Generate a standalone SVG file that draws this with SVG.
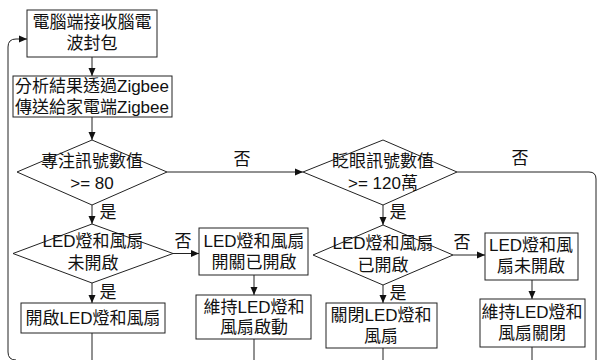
<svg xmlns="http://www.w3.org/2000/svg" width="597" height="360" viewBox="0 0 597 360">
<style>
.s{fill:#fff;stroke:#222;stroke-width:1}
.c{fill:none;stroke:#222;stroke-width:1}
text{font-family:"Liberation Sans","Noto Sans CJK TC",sans-serif;font-size:17px;fill:#111;text-anchor:middle;dominant-baseline:central}
</style>
<defs>
<marker id="ah" viewBox="0 0 8 8" refX="8" refY="4" markerWidth="8" markerHeight="8" markerUnits="userSpaceOnUse" orient="auto">
<path d="M0,0.5 L8,4 L0,7.5 Z" fill="#111"/>
</marker>
</defs>
<rect width="597" height="360" fill="#fff"/>
<g id="connectors">
<path class="c" d="M16,360 Q8,360 8,352 V47 Q8,39 16,39 H27" marker-end="url(#ah)"/>
<path class="c" d="M92,57 V76" marker-end="url(#ah)"/>
<path class="c" d="M92,117 V140" marker-end="url(#ah)"/>
<path class="c" d="M167,172 H303" marker-end="url(#ah)"/>
<path class="c" d="M92,205 V224" marker-end="url(#ah)"/>
<path class="c" d="M173,253.5 H199" marker-end="url(#ah)"/>
<path class="c" d="M92,283 V303" marker-end="url(#ah)"/>
<path class="c" d="M92,333 V360"/>
<path class="c" d="M254,275 V295" marker-end="url(#ah)"/>
<path class="c" d="M254,339 V360"/>
<path class="c" d="M457,172 H589 Q596,172 596,179 V360"/>
<path class="c" d="M383,205 V225" marker-end="url(#ah)"/>
<path class="c" d="M453,255 H485" marker-end="url(#ah)"/>
<path class="c" d="M383,285 V303" marker-end="url(#ah)"/>
<path class="c" d="M383,348 V360"/>
<path class="c" d="M532,280 V299" marker-end="url(#ah)"/>
<path class="c" d="M532,347 V360"/>
<text x="242" y="159">否</text>
<text x="520" y="158">否</text>
<text x="108" y="212">是</text>
<text x="398" y="212">是</text>
<text x="183" y="241">否</text>
<text x="108" y="292">是</text>
<text x="462" y="242">否</text>
<text x="398" y="293">是</text>
</g>
<g id="n1">
<rect class="s" x="27" y="10" width="130" height="47"/>
<text x="92" y="22">電腦端接收腦電</text>
<text x="92" y="43">波封包</text>
</g>
<g id="n2">
<rect class="s" x="13" y="76" width="159" height="41"/>
<text x="92" y="86">分析結果透過Zigbee</text>
<text x="92" y="107">傳送給家電端Zigbee</text>
</g>
<g id="d1">
<polygon class="s" points="92,140 167,172 92,205 17,172"/>
<text x="92" y="161">專注訊號數值</text>
<text x="92" y="183">&gt;= 80</text>
</g>
<g id="d2">
<polygon class="s" points="383,140 457,172 383,205 303,172"/>
<text x="383" y="161">眨眼訊號數值</text>
<text x="383" y="183">&gt;= 120萬</text>
</g>
<g id="d3">
<polygon class="s" points="92,224 173,253.5 92,283 13,253.5"/>
<text x="93" y="241">LED燈和風扇</text>
<text x="93" y="263">未開啟</text>
</g>
<g id="n3">
<rect class="s" x="199" y="228" width="109" height="47"/>
<text x="254" y="241">LED燈和風扇</text>
<text x="254" y="262">開關已開啟</text>
</g>
<g id="n4">
<rect class="s" x="196" y="295" width="115" height="44"/>
<text x="254" y="307">維持LED燈和</text>
<text x="254" y="327">風扇啟動</text>
</g>
<g id="n5">
<rect class="s" x="21" y="303" width="144" height="30"/>
<text x="93" y="318">開啟LED燈和風扇</text>
</g>
<g id="d4">
<polygon class="s" points="383,225 453,255 383,285 313,255"/>
<text x="383" y="243">LED燈和風扇</text>
<text x="383" y="265">已開啟</text>
</g>
<g id="n6">
<rect class="s" x="485" y="233" width="93" height="47"/>
<text x="531" y="245">LED燈和風</text>
<text x="531" y="266">扇未開啟</text>
</g>
<g id="n7">
<rect class="s" x="480" y="299" width="105" height="48"/>
<text x="532" y="312">維持LED燈和</text>
<text x="532" y="333">風扇關閉</text>
</g>
<g id="n8">
<rect class="s" x="326" y="303" width="111" height="45"/>
<text x="381" y="315">關閉LED燈和</text>
<text x="381" y="336">風扇</text>
</g>
</svg>
